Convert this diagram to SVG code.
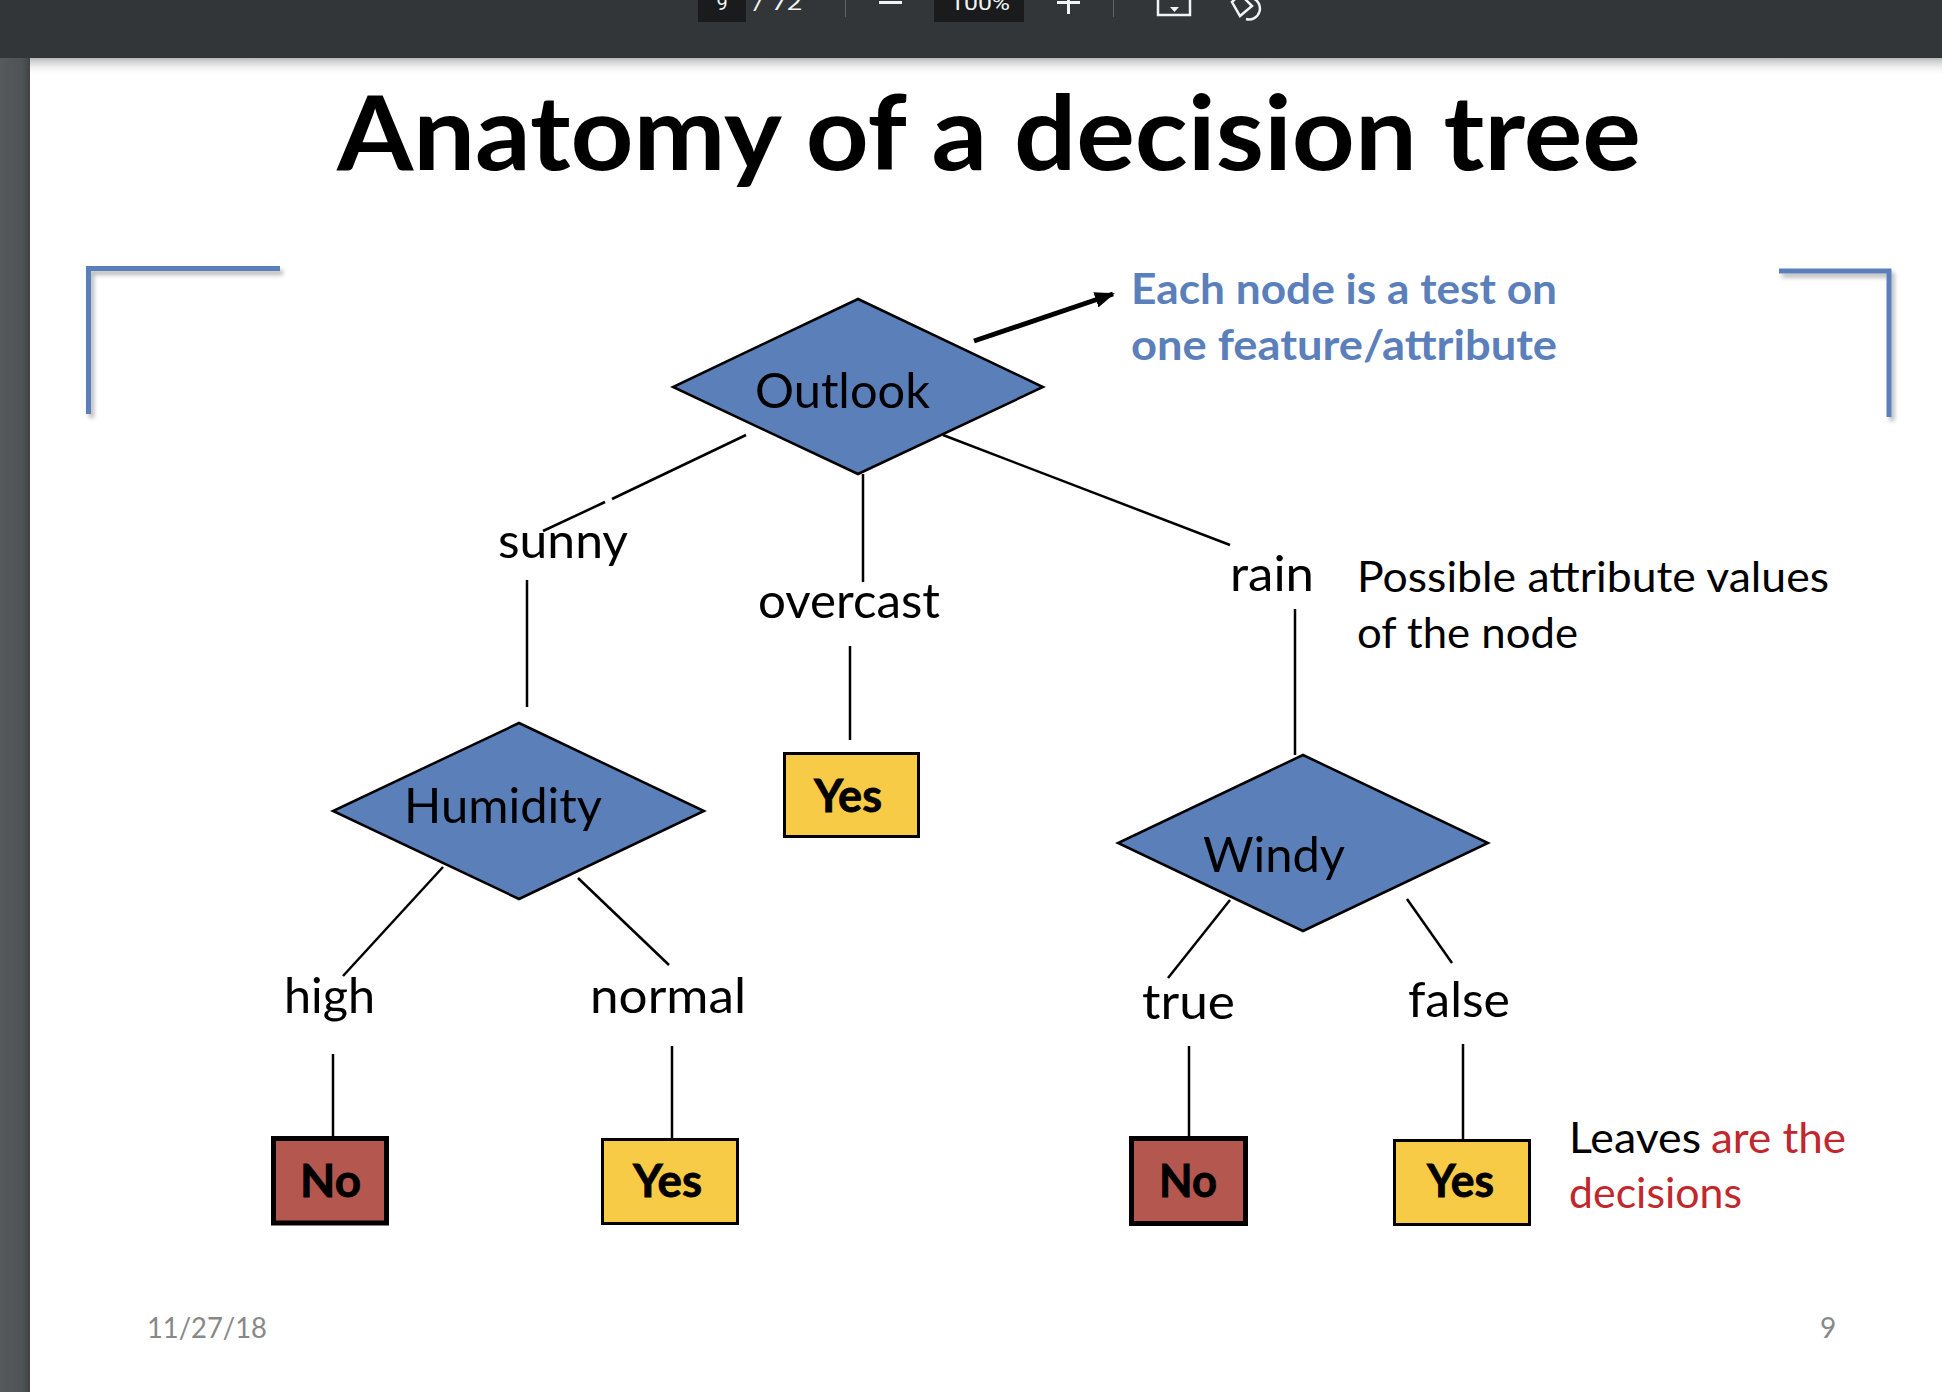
<svg xmlns="http://www.w3.org/2000/svg" width="1942" height="1392" viewBox="0 0 1942 1392">
  <defs>
    <style>
      .lbl { font-family: Lato, "Open Sans", "Liberation Sans", sans-serif; font-size: 48px; fill: #000; }
      .note { font-family: Lato, "Open Sans", "Liberation Sans", sans-serif; font-size: 43px; }
      .leaf { font-family: Lato, "Open Sans", "Liberation Sans", sans-serif; font-weight: 700; font-size: 45px; fill: #000; stroke: #000; stroke-width: 0.8; }
      .dec { fill: #5a7fb9; stroke: #000; stroke-width: 2.5; stroke-linejoin: miter; }
      .yes { fill: #f8cb46; stroke: #000; stroke-width: 3; }
      .no { fill: #b4574f; stroke: #000; stroke-width: 5; }
      .edge { stroke: #000; stroke-width: 2.5; fill: none; }
      .bracket { stroke: #5a7fbb; stroke-width: 5; fill: none; }
      .tb { font-family: Roboto, "Liberation Sans", sans-serif; font-size: 20px; fill: #f1f3f4; }
      .tbsep { stroke: #5f6368; stroke-width: 1; }
    </style>
    <linearGradient id="barShade" x1="0" y1="0" x2="0" y2="1">
      <stop offset="0" stop-color="#b9b9b9"/>
      <stop offset="1" stop-color="#ffffff" stop-opacity="0"/>
    </linearGradient>
    <linearGradient id="sideShade" x1="0" y1="0" x2="1" y2="0">
      <stop offset="0" stop-color="#55595c"/>
      <stop offset="0.75" stop-color="#4f5356"/>
      <stop offset="1" stop-color="#3f4245"/>
    </linearGradient>
    <filter id="soft" x="-20%" y="-20%" width="140%" height="140%">
      <feDropShadow dx="3" dy="4" stdDeviation="2" flood-color="#000" flood-opacity="0.28"/>
    </filter>
    <marker id="head" viewBox="0 0 20 16" refX="18" refY="8" markerWidth="20" markerHeight="16" markerUnits="userSpaceOnUse" orient="auto">
      <path d="M0,0 L20,8 L0,16 z" fill="#000"/>
    </marker>
  </defs>

  <!-- page background -->
  <rect x="0" y="0" width="1942" height="1392" fill="#ffffff"/>
  <rect x="0" y="58" width="30" height="1334" fill="url(#sideShade)"/>
  <rect x="30" y="58" width="1912" height="18" fill="url(#barShade)"/>

  <!-- viewer toolbar -->
  <g id="toolbar">
    <rect x="0" y="0" width="1942" height="58" fill="#323639"/>
    <rect x="698" y="0" width="48" height="22" fill="#191b1c"/>
    <text class="tb" x="722" y="10" text-anchor="middle">9</text>
    <text class="tb" x="753" y="10" textLength="49" lengthAdjust="spacingAndGlyphs">/ 72</text>
    <line class="tbsep" x1="845.5" y1="0" x2="845.5" y2="17"/>
    <rect x="879" y="1" width="23" height="3" fill="#f1f3f4"/>
    <rect x="934" y="0" width="90" height="22" fill="#191b1c"/>
    <text class="tb" x="950" y="10" textLength="60" lengthAdjust="spacingAndGlyphs">100%</text>
    <rect x="1057" y="1" width="23" height="3" fill="#f1f3f4"/>
    <rect x="1067" y="0" width="3" height="14" fill="#f1f3f4"/>
    <line class="tbsep" x1="1113.5" y1="0" x2="1113.5" y2="17"/>
    <path d="M1158,0 V15 H1190 V0" fill="none" stroke="#f1f3f4" stroke-width="2.5"/>
    <path d="M1170,7 H1179 L1174.5,12 z" fill="#f1f3f4"/>
    <path d="M1232,2 L1240,-6 L1252,6 L1240,16 z M1252,-2 A10,10 0 0 1 1246,19" fill="none" stroke="#f1f3f4" stroke-width="2.5"/>
  </g>

  <!-- slide title -->
  <text id="title" x="337" y="170" textLength="1304" lengthAdjust="spacingAndGlyphs" font-family="Lato, 'Open Sans', 'Liberation Sans', sans-serif" font-weight="700" font-size="103" fill="#000">Anatomy of a decision tree</text>

  <!-- corner brackets -->
  <g id="brackets" filter="url(#soft)">
    <path class="bracket" d="M88.5,414 V268.5 H280"/>
    <path class="bracket" d="M1779,271 H1889 V417"/>
  </g>

  <!-- connectors -->
  <g id="connectors">
    <line class="edge" x1="746" y1="435" x2="612" y2="499"/>
    <line class="edge" x1="605" y1="502" x2="543" y2="531"/>
    <line class="edge" x1="527" y1="580" x2="527" y2="707"/>
    <line class="edge" x1="863" y1="474" x2="863" y2="582"/>
    <line class="edge" x1="850" y1="646" x2="850" y2="740"/>
    <line class="edge" x1="943" y1="435" x2="1230" y2="545"/>
    <line class="edge" x1="1295" y1="609" x2="1295" y2="755"/>
    <line class="edge" x1="443" y1="867" x2="343" y2="976"/>
    <line class="edge" x1="578" y1="878" x2="669" y2="965"/>
    <line class="edge" x1="333" y1="1054" x2="333" y2="1136"/>
    <line class="edge" x1="672" y1="1046" x2="672" y2="1138"/>
    <line class="edge" x1="1230" y1="900" x2="1168" y2="978"/>
    <line class="edge" x1="1407" y1="899" x2="1452" y2="963"/>
    <line class="edge" x1="1189" y1="1046" x2="1189" y2="1136"/>
    <line class="edge" x1="1463" y1="1044" x2="1463" y2="1139"/>
    <line x1="974" y1="341" x2="1113" y2="294" stroke="#000" stroke-width="5" marker-end="url(#head)"/>
  </g>

  <!-- branch values -->
  <g id="branch-labels">
    <text class="lbl" x="498" y="558" textLength="130" lengthAdjust="spacingAndGlyphs">sunny</text>
    <text class="lbl" x="758" y="618" textLength="182" lengthAdjust="spacingAndGlyphs">overcast</text>
    <text class="lbl" x="1230" y="591" textLength="84" lengthAdjust="spacingAndGlyphs">rain</text>
    <text class="lbl" x="284" y="1013" textLength="91" lengthAdjust="spacingAndGlyphs">high</text>
    <text class="lbl" x="590" y="1013" textLength="156" lengthAdjust="spacingAndGlyphs">normal</text>
    <text class="lbl" x="1142" y="1019" textLength="93" lengthAdjust="spacingAndGlyphs">true</text>
    <text class="lbl" x="1408" y="1017" textLength="102" lengthAdjust="spacingAndGlyphs">false</text>
  </g>

  <!-- decision nodes -->
  <g id="node-outlook">
    <polygon class="dec" points="858,299 1043,387 858,474 673,387"/>
    <text class="lbl" x="755" y="408" textLength="175" lengthAdjust="spacingAndGlyphs">Outlook</text>
  </g>
  <g id="node-humidity">
    <polygon class="dec" points="519,723 704,811 519,899 333,811"/>
    <text class="lbl" x="404" y="823" textLength="198" lengthAdjust="spacingAndGlyphs">Humidity</text>
  </g>
  <g id="node-windy">
    <polygon class="dec" points="1303,755 1488,843 1303,931 1118,843"/>
    <text class="lbl" x="1203" y="872" textLength="142" lengthAdjust="spacingAndGlyphs">Windy</text>
  </g>

  <!-- leaves -->
  <g id="leaf-overcast-yes">
    <rect class="yes" x="784.5" y="753.5" width="134" height="83"/>
    <text class="leaf" x="814" y="812" textLength="68" lengthAdjust="spacingAndGlyphs">Yes</text>
  </g>
  <g id="leaf-high-no">
    <rect class="no" x="273.5" y="1138.5" width="113" height="84.5"/>
    <text class="leaf" x="300" y="1197" textLength="61" lengthAdjust="spacingAndGlyphs">No</text>
  </g>
  <g id="leaf-normal-yes">
    <rect class="yes" x="602.5" y="1139.5" width="135" height="84"/>
    <text class="leaf" x="633" y="1197" textLength="69" lengthAdjust="spacingAndGlyphs">Yes</text>
  </g>
  <g id="leaf-true-no">
    <rect class="no" x="1131.5" y="1138.5" width="114" height="85"/>
    <text class="leaf" x="1159" y="1197" textLength="58" lengthAdjust="spacingAndGlyphs">No</text>
  </g>
  <g id="leaf-false-yes">
    <rect class="yes" x="1394.5" y="1140.5" width="135" height="84"/>
    <text class="leaf" x="1427" y="1197" textLength="67" lengthAdjust="spacingAndGlyphs">Yes</text>
  </g>

  <!-- annotations -->
  <g id="note-node" font-family="Lato, 'Open Sans', 'Liberation Sans', sans-serif" font-weight="700" font-size="42" fill="#5a7fba">
    <text x="1131" y="304" textLength="426" lengthAdjust="spacingAndGlyphs">Each node is a test on</text>
    <text x="1131" y="360" textLength="426" lengthAdjust="spacingAndGlyphs">one feature/attribute</text>
  </g>
  <g id="note-values" class="note" fill="#000">
    <text class="note" x="1357" y="592" textLength="472" lengthAdjust="spacingAndGlyphs">Possible attribute values</text>
    <text class="note" x="1357" y="648" textLength="221" lengthAdjust="spacingAndGlyphs">of the node</text>
  </g>
  <g id="note-leaves">
    <text class="note" x="1569" y="1153" textLength="132" lengthAdjust="spacingAndGlyphs" fill="#000">Leaves</text>
    <text class="note" x="1711" y="1153" textLength="135" lengthAdjust="spacingAndGlyphs" fill="#c1272d">are the</text>
    <text class="note" x="1569" y="1208" textLength="173" lengthAdjust="spacingAndGlyphs" fill="#c1272d">decisions</text>
  </g>

  <!-- footer -->
  <g id="footer" font-family="Lato, 'Open Sans', 'Liberation Sans', sans-serif" font-size="28" fill="#888888">
    <text x="147" y="1338" textLength="120" lengthAdjust="spacingAndGlyphs">11/27/18</text>
    <text x="1820" y="1338">9</text>
  </g>
</svg>
